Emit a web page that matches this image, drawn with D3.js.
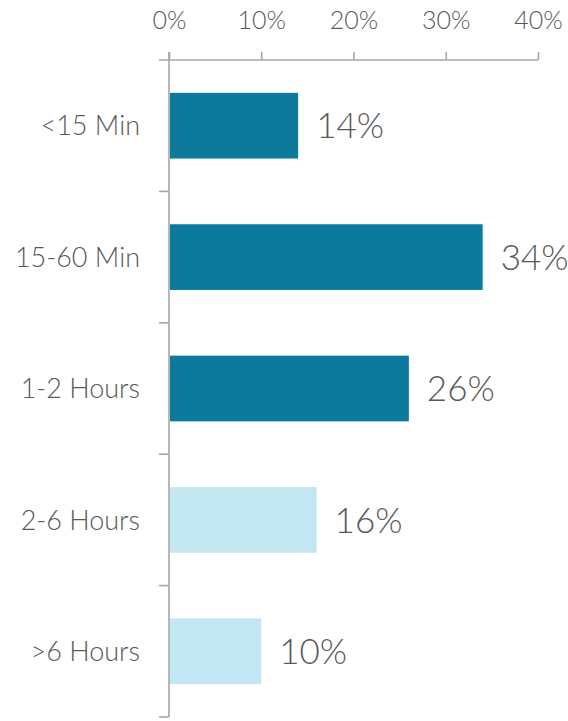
<!DOCTYPE html>
<html>
<head>
<meta charset="utf-8">
<script src="https://cdn.jsdelivr.net/npm/d3@7"></script>
<style>
  html, body { margin: 0; padding: 0; background: #fff; }
  svg { display: block; }
  text { font-family: "Lato", "Open Sans", sans-serif; fill: #595959; font-weight: 300; }
</style>
</head>
<body>
<svg id="chart" width="568" height="721"></svg>
<script>
const categories = ["<15 Min", "15-60 Min", "1-2 Hours", "2-6 Hours", ">6 Hours"];
const values = [14, 34, 26, 16, 10];
const barColors = ["#0B7A9D", "#0B7A9D", "#0B7A9D", "#C2E6F2", "#C2E6F2"];
const tickValues = [0, 10, 20, 30, 40];

(function () {
const svg = d3.select("#chart");
const axisColor = "#A6A6A6";
const mTop = 60, mBottom = 717, mLeft = 169, mRight = 538;

const x = d3.scaleLinear().domain([0, 40]).range([mLeft, mRight]);
const y = d3.scaleBand().domain(categories).range([mTop, mBottom])
  .paddingInner(0.5).paddingOuter(0.25);

// Top axis
const xAxis = d3.axisTop(x).tickValues(tickValues).tickSize(8).tickPadding(23)
  .tickFormat(d => d + "%").tickSizeOuter(0);
const gx = svg.append("g").attr("transform", `translate(0,${mTop})`).call(xAxis);
gx.select(".domain").remove();
gx.selectAll(".tick line").attr("stroke", axisColor).attr("stroke-width", 1.6);
gx.selectAll(".tick text").attr("font-size", 25).attr("fill", "#595959")
  .style("font-family", "Lato, 'Open Sans', sans-serif").style("font-weight", 300);
svg.append("line").attr("x1", x(0) - 10).attr("x2", x(40)).attr("y1", mTop).attr("y2", mTop)
  .attr("stroke", axisColor).attr("stroke-width", 1.6);

// Left axis line
svg.append("line").attr("x1", x(0)).attr("x2", x(0)).attr("y1", mTop - 8).attr("y2", mBottom)
  .attr("stroke", axisColor).attr("stroke-width", 1.6);
const step = y.step();
const boundaries = categories.map(c => y(c) - step * 0.25 + step);
svg.selectAll(".ytick").data(boundaries).enter().append("line")
  .attr("x1", x(0) - 10).attr("x2", x(0)).attr("y1", d => d).attr("y2", d => d)
  .attr("stroke", axisColor).attr("stroke-width", 1.6);

// Bars
svg.selectAll(".bar").data(categories).enter().append("rect")
  .attr("x", x(0) + 1).attr("y", d => y(d))
  .attr("width", (d, i) => x(values[i]) - x(0) - 1)
  .attr("height", y.bandwidth())
  .attr("fill", (d, i) => barColors[i]);

// Category labels
svg.selectAll(".cat").data(categories).enter().append("text")
  .attr("x", x(0) - 29).attr("y", d => y(d) + y.bandwidth() / 2)
  .attr("dy", "0.36em").attr("text-anchor", "end").attr("font-size", 27)
  .text(d => d);

// Value labels
svg.selectAll(".val").data(categories).enter().append("text")
  .attr("x", (d, i) => x(values[i]) + 18).attr("y", d => y(d) + y.bandwidth() / 2)
  .attr("dy", "0.36em").attr("font-size", 35)
  .text((d, i) => values[i] + "%");
})();
</script>
</body>
</html>
